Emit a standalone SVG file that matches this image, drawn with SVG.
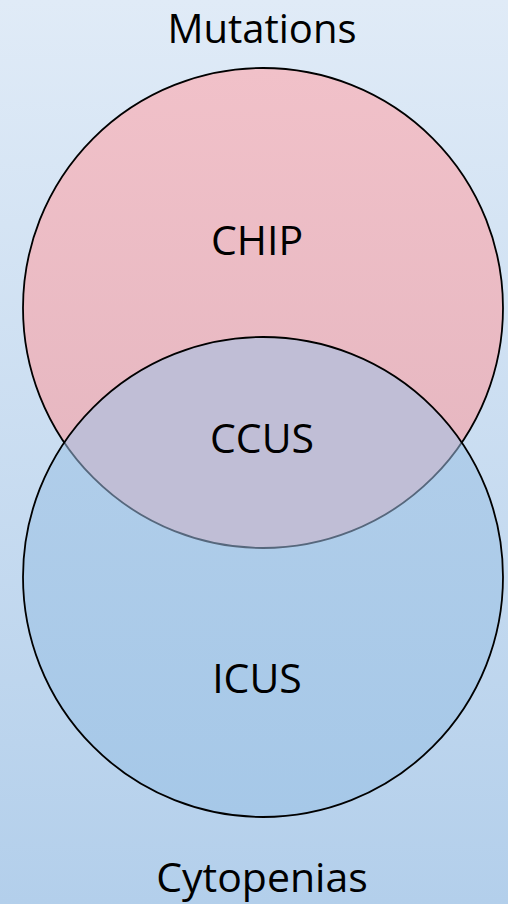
<svg xmlns="http://www.w3.org/2000/svg" width="508" height="904" viewBox="0 0 508 904">
<defs>
<linearGradient id="bg" x1="0" y1="0" x2="0" y2="1">
<stop offset="0" stop-color="#e0ebf7"/>
<stop offset="1" stop-color="#b3cfeb"/>
</linearGradient>
<linearGradient id="pink" x1="0" y1="0" x2="0" y2="1">
<stop offset="0" stop-color="#f1c1c9"/>
<stop offset="1" stop-color="#e4b5bf"/>
</linearGradient>
<linearGradient id="blue" x1="0" y1="0" x2="0" y2="1">
<stop offset="0" stop-color="#b3cfea"/>
<stop offset="1" stop-color="#a6c8e8"/>
</linearGradient>
<clipPath id="clipBottom"><circle cx="263" cy="577" r="240"/></clipPath>
</defs>
<style>
text{font-family:"Open Sans","Liberation Sans",sans-serif;font-size:41px;fill:#000;text-anchor:middle}
.edge{fill:none;stroke:#000;stroke-width:1.8}
</style>
<rect width="508" height="904" fill="url(#bg)"/>
<g id="mutations">
<circle cx="263" cy="308" r="240" fill="url(#pink)" stroke="#000" stroke-width="1.8"/>
</g>
<g id="cytopenias">
<circle cx="263" cy="577" r="240" fill="url(#blue)"/>
</g>
<g id="overlap">
<circle cx="263" cy="308" r="240" fill="#c0bed6" stroke="#56677c" stroke-width="1.8" clip-path="url(#clipBottom)"/>
</g>
<g id="outline">
<circle cx="263" cy="577" r="240" class="edge"/>
</g>
<g id="labels">
<text x="262" y="43" style="font-size:40px">Mutations</text>
<text x="257" y="255">CHIP</text>
<text x="262" y="453">CCUS</text>
<text x="257" y="693">ICUS</text>
<text x="262" y="892">Cytopenias</text>
</g>
</svg>
